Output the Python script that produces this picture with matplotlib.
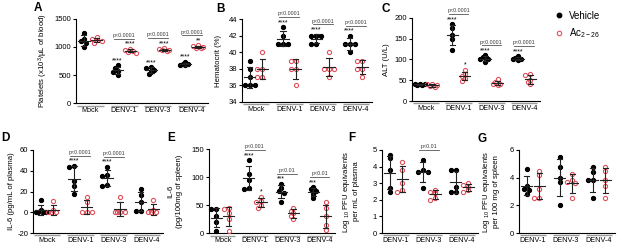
import numpy as np
import matplotlib
matplotlib.use('Agg')
import matplotlib.pyplot as plt
from matplotlib.lines import Line2D
from matplotlib.transforms import blended_transform_factory

plt.rcParams['font.family'] = ['Liberation Sans', 'DejaVu Sans']
plt.rcParams['axes.unicode_minus'] = False
plt.rcParams['mathtext.default'] = 'regular'

W, H = 617, 245
fig = plt.figure(figsize=(W / 100, H / 100), dpi=100)

RED = '#e0505c'
BAR = '#222222'

groups4 = ['Mock', 'DENV-1', 'DENV-3', 'DENV-4']
groups3 = ['DENV-1', 'DENV-3', 'DENV-4']

# ---------------- data ----------------
# A platelets
A_veh = [[1250, 1150, 1100, 1080, 1000], [670, 620, 580, 560, 500],
         [640, 620, 590, 550, 510], [740, 700, 690, 680, 670]]
A_ac = [[1180, 1150, 1120, 1100, 1080], [970, 950, 930, 910, 900],
        [980, 960, 950, 940, 930], [1030, 1010, 1000, 990, 980]]
A_sveh = ['', '****', '****', '****']
A_sac = ['', '****', '****', '**']
A_p = ['', 'p<0.0001', 'p<0.0001', 'p<0.0001']

# B hematocrit
B_veh = [[39, 38, 37, 36, 36, 36], [43, 42, 41, 41, 41],
         [42, 42, 42, 41, 41], [42, 41, 41, 41, 40]]
B_ac = [[40, 38, 38, 37, 37], [39, 39, 38, 38, 36],
        [40, 38, 38, 38, 37], [39, 39, 38, 38, 37]]
B_sveh = ['', '****', '****', '****']
B_sac = ['', '', '', '']
B_p = ['', 'p<0.0001', 'p<0.0001', 'p<0.0001']

# C ALT
C_veh = [[42, 41, 40, 38, 38], [185, 175, 160, 150, 122],
         [110, 105, 102, 100, 95], [108, 103, 100, 100, 98]]
C_ac = [[42, 40, 38, 36, 33], [75, 65, 60, 55, 48],
        [52, 45, 42, 40, 38], [65, 62, 50, 45, 40]]
C_sveh = ['', '****', '****', '****']
C_sac = ['', '*', '', '']
C_p = ['', 'p<0.0001', 'p<0.0001', 'p<0.0001']

# D IL-6 plasma
D_veh = [[12, 2, 0, 0, 0, 0], [45, 44, 30, 25, 18],
         [44, 36, 35, 26, 25], [22, 17, 10, 1, 1]]
D_ac = [[11, 2, 0, 0, 0], [15, 10, 0, 0, 0],
        [15, 0, 0, 0, 0], [12, 2, 0, 0, 0]]
D_sveh = ['', '****', '****', '']
D_sac = ['', '', '', '']
D_p = ['', 'p<0.0001', 'p<0.0001', '']

# E IL-6 spleen
E_veh = [[43, 42, 30, 20, 3], [130, 105, 95, 80, 78],
         [88, 80, 75, 72, 55], [82, 78, 75, 70, 62]]
E_ac = [[45, 42, 35, 25, 3], [65, 58, 55, 50, 45],
        [45, 40, 35, 30, 25], [55, 45, 30, 15, 5]]
E_sveh = ['', '****', '***', '***']
E_sac = ['', '*', '', '']
E_p = ['', 'p<0.001', 'p<0.01', 'p<0.01']

# F viral load plasma
F_veh = [[4.7, 4.5, 3.8, 2.7, 2.5], [4.4, 3.8, 3.7, 3.7, 2.7],
         [3.8, 3.8, 2.8, 2.5, 2.5]]
F_ac = [[4.3, 3.8, 3.0, 2.6, 2.5], [2.6, 2.5, 2.4, 2.1, 2.0],
        [3.0, 2.9, 2.8, 2.6, 2.5]]
F_sveh = ['', '', '']
F_sac = ['', '', '']
F_p = ['', 'p<0.01', '']

# G viral load spleen
G_veh = [[4.6, 3.4, 3.2, 3.1, 2.8], [5.5, 4.8, 4.0, 3.7, 2.0],
         [4.8, 4.4, 3.8, 3.8, 2.5]]
G_ac = [[4.5, 4.2, 3.2, 2.5, 2.5], [4.3, 3.8, 3.7, 3.6, 2.5],
        [4.8, 4.5, 3.8, 3.4, 2.5]]
G_sveh = ['', '', '']
G_sac = ['', '', '']
G_p = ['', '', '']


def rect(l, r, t, b):
    return [l / W, 1 - b / H, (r - l) / W, (b - t) / H]


def swarm(vals, ypx_per_unit, xpx_per_unit, d=4.2):
    vals = np.asarray(vals, float)
    ys = vals * ypx_per_unit
    offs = np.zeros(len(vals))
    placed = []
    step = d * 0.6
    cands = [0, -step, step, -2 * step, 2 * step]
    for i in np.argsort(-vals):
        best = None
        bestd = -1
        for c in cands:
            dmin = min([np.hypot(c - px, ys[i] - py) for px, py in placed] or [99])
            if dmin >= d * 0.75:
                best = c
                break
            if dmin > bestd:
                bestd = dmin
                best = c
        placed.append((best, ys[i]))
        offs[i] = best / xpx_per_unit
    return offs


def panel(px, groups, veh, ac, ylim, yticks, ylabel, lab_x, letter, let_xy,
          s_veh, s_ac, pv):
    l, r, t, b = px
    ax = fig.add_axes(rect(l, r, t, b))
    n = len(groups)
    xl = (-0.42, n - 1 + 0.48)
    ax.set_xlim(xl)
    ax.set_ylim(ylim)
    ypu = (b - t) / (ylim[1] - ylim[0])
    xpu = (r - l) / (xl[1] - xl[0])
    dx = 0.19
    for spn in ['top', 'right']:
        ax.spines[spn].set_visible(False)
    for spn in ['left', 'bottom']:
        ax.spines[spn].set_linewidth(0.8)
    ax.set_yticks(yticks)
    ax.tick_params(axis='y', labelsize=5.5, length=2.5, width=0.8, pad=1)
    ax.set_xticks([])
    trans = blended_transform_factory(ax.transData, ax.transAxes)
    for gi, g in enumerate(groups):
        ax.plot([gi - 0.4, gi + 0.4], [-0.03, -0.03], color='#9a9a9a', lw=1.0,
                transform=trans, clip_on=False, solid_capstyle='butt')
        ax.text(gi, -0.05, g, transform=trans, ha='center', va='top', fontsize=5.2)
        tops = []
        for j, (data, face, edge) in enumerate([(veh[gi], 'black', 'black'),
                                                (ac[gi], 'none', RED)]):
            xc = gi - dx if j == 0 else gi + dx
            arr = np.asarray(data, float)
            offs = swarm(arr, ypu, xpu)
            ax.plot(xc + offs, arr, ls='none', marker='o', ms=3.0,
                    mfc=face, mec=edge, mew=0.8, zorder=3, clip_on=False)
            m = arr.mean()
            sd = arr.std(ddof=1)
            ax.plot([xc - 0.17, xc + 0.17], [m, m], color=BAR, lw=0.8, zorder=4)
            ax.plot([xc, xc], [m - sd, m + sd], color=BAR, lw=0.8, zorder=4)
            for yy in (m - sd, m + sd):
                ax.plot([xc - 0.08, xc + 0.08], [yy, yy], color=BAR, lw=0.8, zorder=4)
            top = max(arr.max(), m + sd)
            tops.append(top)
            st = s_veh[gi] if j == 0 else s_ac[gi]
            if st:
                ax.text(xc, top + 4.5 / ypu, st, ha='center', va='center',
                        fontsize=5, clip_on=False)
        if pv[gi]:
            yl = max(tops) + 10 / ypu
            ax.plot([gi - 0.3, gi + 0.3], [yl, yl], color='#555555', lw=0.6,
                    clip_on=False)
            ax.text(gi, yl + 0.8 / ypu, pv[gi], ha='center', va='bottom',
                    fontsize=3.8, color='#333333', clip_on=False)
    ax.set_ylabel(ylabel, fontsize=5.6, linespacing=1.2)
    ax.yaxis.set_label_coords(lab_x, 0.5)
    fig.text(let_xy[0] / W, 1 - let_xy[1] / H, letter, ha='left', va='top',
             fontsize=8.5, fontweight='bold')
    return ax


panel((76, 208, 19, 103), groups4, A_veh, A_ac, (0, 1500), [0, 500, 1000, 1500],
      'Platelets (x10$^{3}$/µL of blood)', -0.2, 'A', (34, 2), A_sveh, A_sac, A_p)
panel((242, 372, 19, 102), groups4, B_veh, B_ac, (34, 44), [34, 36, 38, 40, 42, 44],
      'Hematocrit (%)', -0.155, 'B', (216, 3), B_sveh, B_sac, B_p)
panel((412, 540, 18, 101), groups4, C_veh, C_ac, (0, 200), [0, 50, 100, 150, 200],
      'ALT (U/L)', -0.17, 'C', (382, 3), C_sveh, C_sac, C_p)
panel((33, 163, 150, 233), groups4, D_veh, D_ac, (-20, 60), [-20, 0, 20, 40, 60],
      'IL-6 (pg/mL of plasma)', -0.14, 'D', (1, 132), D_sveh, D_sac, D_p)
panel((209, 335, 149, 233), groups4, E_veh, E_ac, (0, 150), [0, 50, 100, 150],
      'IL-6\n(pg/100mg of spleen)', -0.21, 'E', (167, 132), E_sveh, E_sac, E_p)
panel((382, 478, 150, 233), groups3, F_veh, F_ac, (0, 5), [0, 1, 2, 3, 4, 5],
      'Log $_{10}$ PFU equivalents\nper mL of plasma', -0.23, 'F', (348, 132),
      F_sveh, F_sac, F_p)
panel((519, 615, 150, 233), groups3, G_veh, G_ac, (0, 6), [0, 2, 4, 6],
      'Log $_{10}$ PFU equivalents\nper 100 mg of spleen', -0.2, 'G', (478, 133),
      G_sveh, G_sac, G_p)

handles = [Line2D([], [], ls='none', marker='o', ms=3.2, mfc='black', mec='black'),
           Line2D([], [], ls='none', marker='o', ms=3.2, mfc='none', mec=RED, mew=0.8)]
fig.legend(handles, ['Vehicle', 'Ac$_{2-26}$'], loc='upper left',
           bbox_to_anchor=(547 / W, 1 - 4 / H), frameon=False, fontsize=7,
           handlelength=1.0, handletextpad=0.6, labelspacing=0.55, borderpad=0.2)

fig.savefig('out.png', dpi=100)
